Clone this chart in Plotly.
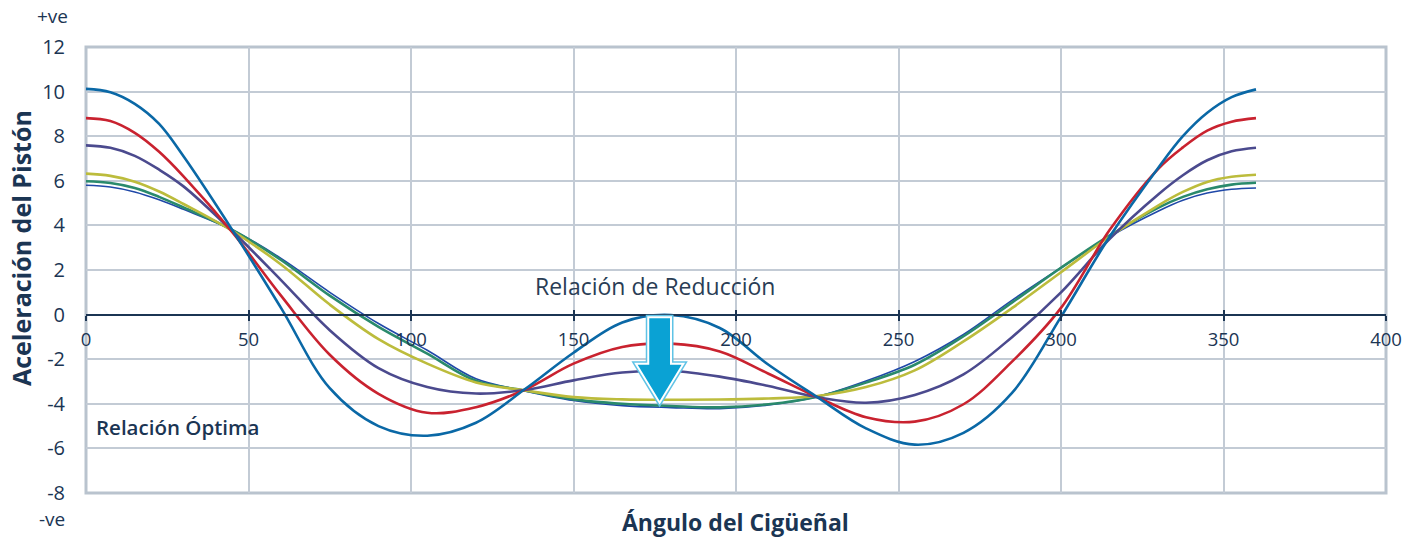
import plotly.graph_objects as go

# ---- data ----
angles = [0, 7.5, 15, 22.5, 30, 45, 60, 75, 90, 105, 120, 135, 150, 165, 180,
          195, 210, 225, 240, 255, 270, 285, 300, 315, 330, 337.5, 345, 352.5, 360]

blue = [10.12, 9.97, 9.45, 8.55, 7.1, 3.8, 0.3, -3.3, -5.0, -5.43, -4.85, -3.35, -1.71, -0.35, -0.02,
        -0.6, -2.25, -3.7, -5.1, -5.83, -5.3, -3.5, -0.1, 3.5, 6.6, 8.0, 9.05, 9.75, 10.1]
red = [8.81, 8.68, 8.15, 7.3, 6.2, 3.7, 0.85, -1.8, -3.55, -4.4, -4.15, -3.37, -2.2, -1.45, -1.3,
       -1.65, -2.65, -3.7, -4.6, -4.8, -4.02, -2.1, 0.3, 3.8, 6.55, 7.5, 8.25, 8.65, 8.81]
purple = [7.59, 7.48, 7.12, 6.5, 5.75, 3.75, 1.55, -0.7, -2.4, -3.25, -3.54, -3.38, -2.95, -2.6, -2.53,
          -2.78, -3.2, -3.7, -3.95, -3.6, -2.68, -1.0, 1.0, 3.4, 5.4, 6.25, 6.92, 7.32, 7.48]
yellow = [6.32, 6.22, 5.96, 5.52, 4.96, 3.75, 2.25, 0.45, -1.1, -2.2, -3.04, -3.4, -3.7, -3.8, -3.82,
          -3.81, -3.76, -3.65, -3.25, -2.5, -1.2, 0.3, 1.9, 3.5, 4.9, 5.5, 5.95, 6.18, 6.27]
green = [5.98, 5.9, 5.68, 5.28, 4.8, 3.8, 2.45, 0.85, -0.55, -1.75, -2.97, -3.4, -3.8, -4.0, -4.1,
         -4.16, -4.02, -3.68, -3.05, -2.25, -0.97, 0.55, 2.1, 3.55, 4.8, 5.28, 5.62, 5.83, 5.91]
navy = [5.8, 5.72, 5.5, 5.15, 4.72, 3.8, 2.52, 1.0, -0.4, -1.6, -2.88, -3.42, -3.85, -4.08, -4.17,
        -4.22, -4.05, -3.68, -2.98, -2.1, -0.89, 0.65, 2.1, 3.5, 4.65, 5.13, 5.45, 5.62, 5.68]

x_ticks = [0, 50, 100, 150, 200, 250, 300, 350, 400]
y_ticks = [-8, -6, -4, -2, 0, 2, 4, 6, 8, 10, 12]
y_tick_labels = ["-8", "-6", "-4", "-2", "0", "2", "4", "6", "8", "10", "12"]
optimal_value = -4

TXT = "#1b3553"
GRID = "#c3cbd5"
FONT = "Open Sans"

series = [
    (navy, "#1f48a8", 1.6),
    (green, "#2a8a6c", 2.6),
    (yellow, "#bcbc3c", 2.6),
    (purple, "#4b4a8e", 2.6),
    (red, "#c9222f", 2.6),
    (blue, "#0a68a6", 2.6),
]

fig = go.Figure()
for vals, col, w in series:
    fig.add_trace(go.Scatter(x=angles, y=vals, mode="lines",
                             line=dict(color=col, width=w, shape="spline", smoothing=1.0),
                             showlegend=False, hoverinfo="skip"))

# invisible trace on overlay axis for double-sided ticks
fig.add_trace(go.Scatter(x=[0, 400], y=[None, None], xaxis="x2", yaxis="y",
                         mode="lines", showlegend=False, hoverinfo="skip"))

# page body has an 8px margin, so the figure is sized/offset to compensate
fig.update_layout(
    width=1409, height=529,
    margin=dict(l=78, r=31, t=39, b=44),
    paper_bgcolor="white", plot_bgcolor="white",
    font=dict(family=FONT, color=TXT, size=19),
    xaxis=dict(range=[0, 400], tickvals=x_ticks, showgrid=True, gridcolor=GRID, gridwidth=2,
               zeroline=False, anchor="free", position=0.4, showline=True,
               linecolor=TXT, linewidth=2, ticks="outside", ticklen=5, tickwidth=1.5,
               tickcolor=TXT, tickfont=dict(size=18.5, color=TXT), ticklabelstandoff=3),
    xaxis2=dict(range=[0, 400], tickvals=x_ticks, overlaying="x", anchor="free", position=0.4,
                showgrid=False, zeroline=False, showline=False, ticks="inside", ticklen=5,
                tickwidth=1.5, tickcolor=TXT, showticklabels=False),
    yaxis=dict(range=[-8, 12], tickvals=y_ticks, ticktext=y_tick_labels, showgrid=True,
               gridcolor=GRID, gridwidth=2, zeroline=False, showline=False, ticks="",
               tickfont=dict(size=20, color=TXT), ticklabelstandoff=20),
)

# frame
fig.add_shape(type="rect", xref="paper", yref="paper", x0=0, x1=1, y0=0, y1=1,
              line=dict(color="#b9c3ce", width=3), layer="below")
# optimal line
fig.add_shape(type="line", xref="x", yref="y", x0=0, x1=400, y0=optimal_value, y1=optimal_value,
              line=dict(color=TXT, width=1.6, dash="dash"), layer="below")

# arrow (decoration)
ax = 176.5
sh, hh = 3.5, 7.3
yt, yn, yp = -0.12, -2.2, -3.95
arrow_path = (f"M {ax-sh},{yt} L {ax+sh},{yt} L {ax+sh},{yn} L {ax+hh},{yn} "
              f"L {ax},{yp} L {ax-hh},{yn} L {ax-sh},{yn} Z")
fig.add_shape(type="path", path=arrow_path, xref="x", yref="y",
              fillcolor="#0aa2d4", line=dict(color="#5fc3e6", width=5), layer="above")
fig.add_shape(type="path", path=arrow_path, xref="x", yref="y",
              fillcolor="#0aa2d4", line=dict(color="white", width=2), layer="above")

# texts (paper coords relative to plot area: x 86..1386 px, y 47..493 px)
def px(x):
    return (x - 86) / 1300


def py(y):
    return (493 - y) / 446


fig.add_annotation(text="Relación de Reducción", xref="paper", yref="paper",
                   x=px(655), y=py(286), showarrow=False,
                   font=dict(size=23, color="#2a3d55", family=FONT), xanchor="center", yanchor="middle")
fig.add_annotation(text="Relación Óptima", xref="paper", yref="paper",
                   x=px(94), y=py(427), showarrow=False,
                   font=dict(size=20.5, color=TXT, family=FONT, weight=600),
                   xanchor="left", yanchor="middle")
fig.add_annotation(text="+ve", xref="paper", yref="paper", x=px(52), y=py(16),
                   showarrow=False, font=dict(size=19, color=TXT), xanchor="center", yanchor="middle")
fig.add_annotation(text="-ve", xref="paper", yref="paper", x=px(52), y=py(519),
                   showarrow=False, font=dict(size=19, color=TXT), xanchor="center", yanchor="middle")
fig.add_annotation(text="<b>Aceleración del Pistón</b>", xref="paper", yref="paper",
                   x=px(21), y=py(248), textangle=-90, showarrow=False,
                   font=dict(size=25, color=TXT), xanchor="center", yanchor="middle")
fig.add_annotation(text="<b>Ángulo del Cigüeñal</b>", xref="paper", yref="paper",
                   x=px(735), y=py(522), showarrow=False,
                   font=dict(size=23, color=TXT), xanchor="center", yanchor="middle")

fig.write_html("out.html")
